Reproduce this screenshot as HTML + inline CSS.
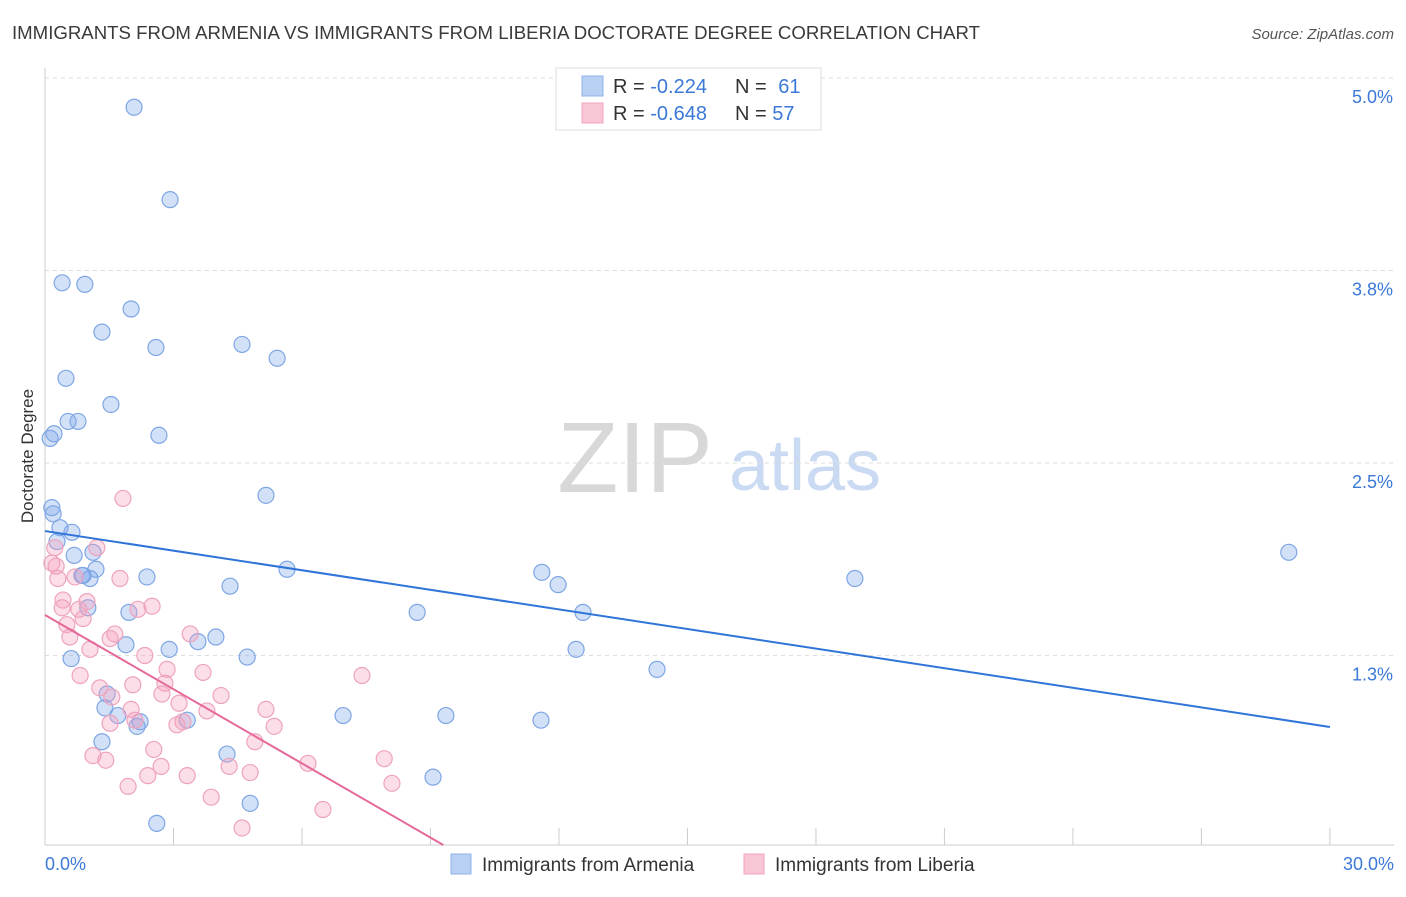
<!DOCTYPE html>
<html><head><meta charset="utf-8">
<style>
body{margin:0;background:#fff;width:1406px;height:892px;overflow:hidden;font-family:"Liberation Sans",sans-serif;}
svg text{font-family:"Liberation Sans",sans-serif;}
</style></head>
<body>
<svg id="chart" width="1406" height="892" xmlns="http://www.w3.org/2000/svg">
<text x="12" y="39" font-size="18.5" fill="#3a3a3a" textLength="968" lengthAdjust="spacingAndGlyphs">IMMIGRANTS FROM ARMENIA VS IMMIGRANTS FROM LIBERIA DOCTORATE DEGREE CORRELATION CHART</text>
<text x="1394" y="39" font-size="15" fill="#555" text-anchor="end" font-style="italic">Source: ZipAtlas.com</text>
<text transform="translate(33,456) rotate(-90)" font-size="17" fill="#333" text-anchor="middle">Doctorate Degree</text>
<g>
<text x="635" y="492" font-size="100" fill="#d8d8d8" font-family="Liberation Serif,serif" text-anchor="middle">ZIP</text>
<text x="805" y="490" font-size="72" fill="#c9daf2" text-anchor="middle">atlas</text>
</g>
<g id="grid"></g>
<g id="ticks"></g>
<g id="points"></g>
<g id="lines"></g>
<g>
<rect x="556" y="68" width="265" height="62" fill="#fff" stroke="#ddd"/>
<rect x="582" y="76" width="21" height="20" fill="#b8d0f3" stroke="#8fb3e8"/>
<rect x="582" y="103" width="21" height="20" fill="#f9c6d6" stroke="#f0a4bf"/>
<text x="613" y="93" font-size="20" fill="#333">R = <tspan fill="#3b78d8">-0.224</tspan></text>
<text x="735" y="93" font-size="20" fill="#333">N = <tspan fill="#3b78d8" dx="6">61</tspan></text>
<text x="613" y="120" font-size="20" fill="#333">R = <tspan fill="#3b78d8">-0.648</tspan></text>
<text x="735" y="120" font-size="20" fill="#333">N = <tspan fill="#3b78d8">57</tspan></text>
</g>
<g>
<rect x="451" y="854" width="20" height="20" fill="#b8d0f3" stroke="#8fb3e8"/>
<text x="482" y="871" font-size="19" fill="#333">Immigrants from Armenia</text>
<rect x="744" y="854" width="20" height="20" fill="#f9c6d6" stroke="#f0a4bf"/>
<text x="775" y="871" font-size="19" fill="#333">Immigrants from Liberia</text>
</g>
</svg>
<script>
const blueX=[2.08,2.92,0.40,0.93,2.01,1.33,2.59,4.60,5.42,0.49,1.54,0.54,0.77,0.21,0.12,2.66,5.16,0.16,0.19,0.35,0.63,0.28,1.12,0.68,1.19,0.86,1.05,2.38,5.65,4.32,11.60,11.98,18.91,29.04,1.00,1.96,8.69,12.56,1.89,2.90,3.57,3.99,0.61,4.72,12.40,14.29,1.45,1.40,1.70,2.22,2.15,3.32,6.96,9.36,11.58,1.33,4.25,9.06,4.79,2.61,0.89];
const blueY=[4.81,4.21,3.67,3.66,3.50,3.35,3.25,3.27,3.18,3.05,2.88,2.77,2.77,2.69,2.66,2.68,2.29,2.21,2.17,2.08,2.05,1.99,1.92,1.90,1.81,1.77,1.75,1.76,1.81,1.70,1.79,1.71,1.75,1.92,1.56,1.53,1.53,1.53,1.32,1.29,1.34,1.37,1.23,1.24,1.29,1.16,1.00,0.91,0.86,0.82,0.79,0.83,0.86,0.86,0.83,0.69,0.61,0.46,0.29,0.16,1.77];
const pinkX=[1.82,0.23,1.21,0.16,0.26,0.30,1.75,0.70,0.42,0.98,2.50,0.40,0.79,0.89,0.51,2.17,3.39,0.58,1.63,1.52,1.05,2.33,0.82,2.85,3.69,7.40,2.05,1.28,2.80,1.56,2.73,4.11,3.13,2.01,3.78,5.16,1.52,2.10,3.08,3.22,5.35,4.90,2.54,1.12,7.92,2.71,6.14,4.30,2.40,3.32,4.79,1.94,8.10,3.88,6.49,4.60,1.42];
const pinkY=[2.27,1.95,1.95,1.85,1.83,1.75,1.75,1.76,1.61,1.60,1.57,1.56,1.55,1.49,1.45,1.55,1.39,1.37,1.39,1.36,1.29,1.25,1.12,1.16,1.14,1.12,1.06,1.04,1.07,0.98,1.00,0.99,0.94,0.90,0.89,0.90,0.81,0.83,0.80,0.82,0.79,0.69,0.64,0.60,0.58,0.53,0.55,0.53,0.47,0.47,0.49,0.40,0.42,0.33,0.25,0.13,0.57];
const blueTrend=[2.058,-0.0424];
const pinkTrend=[1.513,-0.1627];
const yTicks=[5.0,3.75,2.5,1.25];
const yTickLabels=["5.0%","3.8%","2.5%","1.3%"];
const xTicks=[0,3,6,9,12,15,18,21,24,27,30];
const NS="http://www.w3.org/2000/svg";
const sx=v=>45+v*42.83, sy=v=>78+(5-v)*154;
function mk(tag,attrs,parent){const e=document.createElementNS(NS,tag);for(const k in attrs)e.setAttribute(k,attrs[k]);parent.appendChild(e);return e;}
const grid=document.getElementById('grid'),ticks=document.getElementById('ticks'),pts=document.getElementById('points'),lines=document.getElementById('lines');
yTicks.forEach((v,i)=>{
 const l=mk('line',{x1:45,x2:1394,y1:sy(v),y2:sy(v),stroke:'#ddd','stroke-dasharray':'4,4'},grid);
 
 
 const t=mk('text',{x:1393,y:sy(v)+25,'font-size':18,fill:'#3b78d8','text-anchor':'end'},ticks);
 t.textContent=yTickLabels[i];
 
 
});
const ax=mk('line',{x1:45,x2:45,y1:68,y2:845,stroke:'#ccc'},ticks);


const bx=mk('line',{x1:45,x2:1394,y1:845,y2:845,stroke:'#ccc'},ticks);


xTicks.forEach(v=>{
 const l=mk('line',{x1:sx(v),x2:sx(v),y1:828,y2:845,stroke:'#ccc'},ticks);
 
 
});
const xl0=mk('text',{x:45,y:870,'font-size':18,fill:'#3b78d8'},ticks);xl0.textContent=xTicks[0].toFixed(1)+'%';


const xl1=mk('text',{x:1394,y:870,'font-size':18,fill:'#3b78d8','text-anchor':'end'},ticks);xl1.textContent=xTicks[xTicks.length-1].toFixed(1)+'%';


blueX.forEach((x,i)=>{
 const c=mk('circle',{cx:sx(x),cy:sy(blueY[i]),r:8,fill:'rgba(130,170,235,0.35)',stroke:'#7ea6e4','stroke-width':1.2},pts);
 
 
});
pinkX.forEach((x,i)=>{
 const c=mk('circle',{cx:sx(x),cy:sy(pinkY[i]),r:8,fill:'rgba(245,160,190,0.35)',stroke:'#eea3bd','stroke-width':1.2},pts);
 
 
});
const bl=mk('line',{x1:sx(0),y1:sy(blueTrend[0]),x2:sx(30),y2:sy(blueTrend[0]+30*blueTrend[1]),stroke:'#2f74d8','stroke-width':2},lines);


const pend=-pinkTrend[0]/pinkTrend[1];
const pl=mk('line',{x1:sx(0),y1:sy(pinkTrend[0]),x2:sx(pend),y2:sy(0)-3,stroke:'#e5689a','stroke-width':2},lines);


</script>
</body></html>
